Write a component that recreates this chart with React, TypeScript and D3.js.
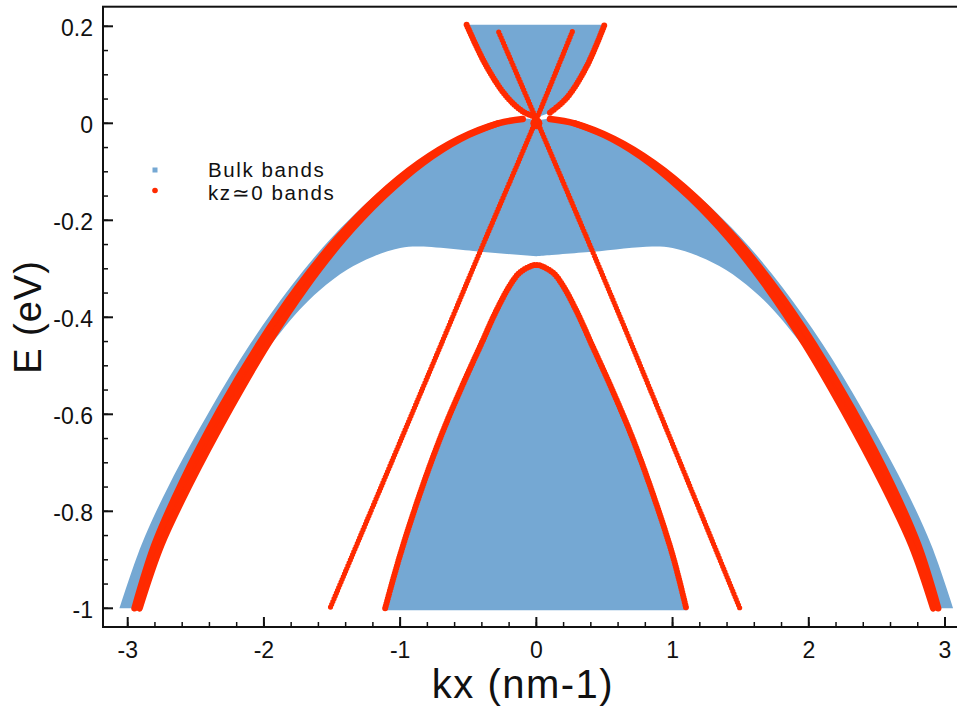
import React from "react";
import * as d3 from "d3";

type P = [number, number];

// ---- axis ticks ----
const xTickValues = [-3, -2, -1, 0, 1, 2, 3];
const yTickValues = [0.2, 0, -0.2, -0.4, -0.6, -0.8, -1];
const xMinorStep = 0.2;
const yMinorStep = 0.05;

// ---- bulk bands (blue regions), [kx, E] boundary points ----
const valenceOuterLeft: P[] = [
  [-3.06, -1.0], [-2.9, -0.87], [-2.695, -0.745], [-2.393, -0.59], [-2.101, -0.455],
  [-1.806, -0.338], [-1.51, -0.238], [-1.198, -0.152], [-0.889, -0.082],
  [-0.59, -0.032], [-0.295, 0.0], [-0.12, 0.011], [0, 0.006],
];
const valenceOuterRight: P[] = [
  [0.12, 0.011], [0.295, 0.0], [0.59, -0.032], [0.889, -0.082], [1.198, -0.152],
  [1.51, -0.238], [1.806, -0.338], [2.101, -0.455], [2.393, -0.59],
  [2.695, -0.745], [2.9, -0.87], [3.06, -1.0],
];
const valenceInnerRight: P[] = [
  [2.9, -1.0], [2.75, -0.87], [2.54, -0.745], [2.25, -0.59], [2.03, -0.488],
  [1.88, -0.432], [1.74, -0.385], [1.59, -0.344], [1.39, -0.302], [1.2, -0.275],
  [1.0, -0.257], [0.85, -0.254], [0.41, -0.265], [0, -0.274],
];
const valenceInnerLeft: P[] = [
  [-0.41, -0.265], [-0.85, -0.254], [-1.0, -0.257], [-1.2, -0.275],
  [-1.39, -0.302], [-1.59, -0.344], [-1.74, -0.385], [-1.88, -0.432],
  [-2.03, -0.488], [-2.25, -0.59], [-2.54, -0.745], [-2.75, -0.87], [-2.9, -1.0],
];
const conductionLeft: P[] = [
  [-0.512, 0.203], [-0.365, 0.117], [-0.218, 0.055], [-0.098, 0.024], [0, 0.012],
];
const conductionRight: P[] = [
  [0.1, 0.022], [0.222, 0.052], [0.369, 0.117], [0.5, 0.203],
];
const holeLeft: P[] = [
  [-1.11, -1.0], [-1.0, -0.89], [-0.85, -0.76], [-0.7, -0.645], [-0.55, -0.545],
  [-0.4, -0.452], [-0.3, -0.39], [-0.2, -0.337], [-0.13, -0.31], [-0.06, -0.297],
  [0, -0.292],
];
const holeRight: P[] = [
  [0.06, -0.297], [0.13, -0.31], [0.2, -0.337], [0.3, -0.39], [0.4, -0.452],
  [0.55, -0.545], [0.7, -0.645], [0.85, -0.76], [1.0, -0.89], [1.1, -1.0],
];
const bulkBottom = -1.004;

// ---- kz≈0 bands (red) ----
const redOuterALeft: P[] = [
  [-2.95, -1.0], [-2.805, -0.87], [-2.61, -0.745], [-2.323, -0.59], [-2.036, -0.455],
  [-1.751, -0.338], [-1.465, -0.238], [-1.168, -0.152], [-0.864, -0.082],
  [-0.57, -0.032], [-0.28, 0.0], [-0.1, 0.009],
];
const redOuterBLeft: P[] = [
  [-2.913, -1.0], [-2.754, -0.87], [-2.544, -0.745], [-2.25, -0.59], [-1.97, -0.455],
  [-1.692, -0.338], [-1.414, -0.238], [-1.124, -0.152], [-0.834, -0.082],
  [-0.555, -0.032], [-0.28, 0.0],
];
const redOuterARight: P[] = [
  [0.1, 0.009], [0.28, 0.0], [0.57, -0.032], [0.864, -0.082], [1.168, -0.152],
  [1.465, -0.238], [1.751, -0.338], [2.036, -0.455], [2.323, -0.59],
  [2.61, -0.745], [2.805, -0.87], [2.95, -1.0],
];
const redOuterBRight: P[] = [
  [0.28, 0.0], [0.555, -0.032], [0.834, -0.082], [1.124, -0.152], [1.414, -0.238],
  [1.692, -0.338], [1.97, -0.455], [2.25, -0.59], [2.544, -0.745],
  [2.754, -0.87], [2.913, -1.0],
];
const diracA: P[] = [
  [-0.276, 0.188], [0, 0.008], [0.414, -0.265], [0.686, -0.447], [1.494, -1.0],
];
const diracB: P[] = [
  [0.264, 0.189], [0, 0.008], [-0.414, -0.265], [-0.686, -0.447], [-1.515, -1.0],
];
const diracPoint: P = [0, 0.0];

const legendItems = ["Bulk bands", "kz\u22430 bands"];

const BLUE = "#75a8d3";
const RED = "#ff2a00";
const FONT = "'Liberation Sans', Arial, Helvetica, sans-serif";

export default function App() {
  const W = 957;
  const H = 708;
  const plot = { left: 103, top: 6.7, right: 959, bottom: 627 };

  const x = d3.scaleLinear().domain([-3, 3]).range([127.7, 945]);
  const y = d3.scaleLinear().domain([0.2, -1]).range([26.3, 608.3]);

  const line = d3
    .line<P>()
    .x((d) => x(d[0]))
    .y((d) => y(d[1]))
    .curve(d3.curveCatmullRom.alpha(0.5));

  const poly = (...parts: P[][]) =>
    parts
      .map((p, i) => {
        const s = line(p) || "";
        return i ? s.replace(/^M/, "L") : s;
      })
      .join("") + "Z";

  const valenceD = poly(valenceOuterLeft, valenceOuterRight, valenceInnerRight, valenceInnerLeft);
  const conductionD = poly(conductionLeft, conductionRight);
  const holeD = poly(
    [[holeLeft[0][0] - 0.01, bulkBottom], ...holeLeft],
    [...holeRight, [holeRight[holeRight.length - 1][0] + 0.01, bulkBottom]]
  );
  const redBandLeftD = poly(redOuterALeft, [...redOuterBLeft].reverse());
  const redBandRightD = poly(redOuterARight, [...redOuterBRight].reverse());

  const xMinor = d3.range(-15, 16).map((i) => i * xMinorStep);
  const yMinor = d3.range(-20, 5).map((i) => i * yMinorStep);

  const dotted = {
    fill: "none",
    stroke: RED,
    strokeLinecap: "round" as const,
    strokeLinejoin: "round" as const,
  };

  return (
    <svg
      width={W}
      height={H}
      style={{ position: "absolute", left: 0, top: 0, background: "#fff" }}
      fontFamily={FONT}
    >
      <defs>
        <clipPath id="plotClip">
          <rect x={plot.left} y={plot.top} width={plot.right - plot.left} height={plot.bottom - plot.top} />
        </clipPath>
      </defs>
      <rect width={W} height={H} fill="#fff" />

      <g clipPath="url(#plotClip)">
        {/* bulk bands */}
        <path d={valenceD} fill={BLUE} />
        <path d={conductionD} fill={BLUE} />
        <path d={holeD} fill={BLUE} />

        {/* kz≈0 bands */}
        <path d={redBandLeftD} fill={RED} />
        <path d={redBandRightD} fill={RED} />
        {[redOuterALeft, redOuterBLeft, redOuterARight, redOuterBRight].map((pts, i) => (
          <path key={"o" + i} d={line(pts) || ""} {...dotted} strokeWidth={6.5} />
        ))}
        {[conductionLeft, conductionRight].map((pts, i) => (
          <path key={"c" + i} d={line(pts) || ""} {...dotted} strokeWidth={6} strokeDasharray="0 2.6" />
        ))}
        <path d={line([...holeLeft, ...holeRight]) || ""} {...dotted} strokeWidth={6} strokeDasharray="0 2.6" />
        {[diracA, diracB].map((pts, i) => (
          <path key={"d" + i} d={line(pts) || ""} {...dotted} strokeWidth={5.2} strokeDasharray="0 3" />
        ))}
        <circle cx={x(diracPoint[0])} cy={y(diracPoint[1])} r={6} fill={RED} />
      </g>

      {/* legend */}
      <rect x={152.5} y={167.5} width={5} height={5} fill={BLUE} />
      <circle cx={155} cy={190.5} r={2.8} fill={RED} />
      {legendItems.map((t, i) => (
        <text key={t} x={208} y={177 + i * 23} fontSize={20.5} letterSpacing={1.6} fill="#111">
          {t}
        </text>
      ))}

      {/* frame */}
      <rect
        x={plot.left}
        y={plot.top}
        width={plot.right - plot.left}
        height={plot.bottom - plot.top}
        fill="none"
        stroke="#111"
        strokeWidth={2}
      />

      {/* x ticks */}
      {xMinor.map((v) => (
        <line key={"xm" + v} x1={x(v)} x2={x(v)} y1={plot.bottom} y2={plot.bottom - 5} stroke="#111" strokeWidth={1.5} />
      ))}
      {xTickValues.map((v) => (
        <g key={"x" + v}>
          <line x1={x(v)} x2={x(v)} y1={plot.bottom} y2={plot.bottom - 10} stroke="#111" strokeWidth={2} />
          <text x={x(v)} y={658} textAnchor="middle" fontSize={23} fill="#111">
            {String(v)}
          </text>
        </g>
      ))}

      {/* y ticks */}
      {yMinor.map((v) => (
        <line key={"ym" + v} x1={plot.left} x2={plot.left + 5} y1={y(v)} y2={y(v)} stroke="#111" strokeWidth={1.5} />
      ))}
      {yTickValues.map((v) => (
        <g key={"y" + v}>
          <line x1={plot.left} x2={plot.left + 10} y1={y(v)} y2={y(v)} stroke="#111" strokeWidth={2} />
          <text x={93} y={y(v) + 10} textAnchor="end" fontSize={23} fill="#111">
            {String(v)}
          </text>
        </g>
      ))}

      {/* axis titles */}
      <text x={523} y={698} textAnchor="middle" fontSize={40} letterSpacing={1.5} fill="#111">
        kx (nm-1)
      </text>
      <text transform="translate(41,317) rotate(-90)" textAnchor="middle" fontSize={38} letterSpacing={1} fill="#111">
        E (eV)
      </text>
    </svg>
  );
}
